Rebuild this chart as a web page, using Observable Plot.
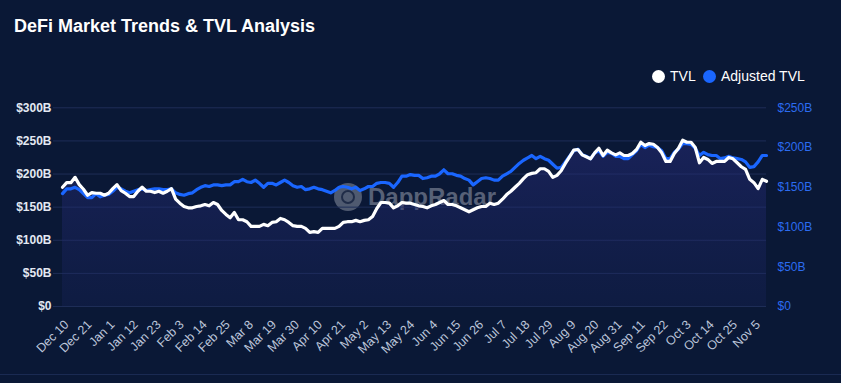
<!DOCTYPE html>
<html><head><meta charset="utf-8">
<script src="https://cdn.jsdelivr.net/npm/d3@7"></script>
<script src="https://cdn.jsdelivr.net/npm/@observablehq/plot@0.6"></script>
<style>
html,body{margin:0;padding:0;background:#0a1836;}
#wrap{position:relative;width:841px;height:383px;background:#0a1836;overflow:hidden;font-family:"Liberation Sans",Arial,sans-serif;}
#title{position:absolute;left:14px;top:17px;line-height:18px;color:#fff;font-weight:700;font-size:18px;white-space:nowrap;}
.dot{position:absolute;width:13px;height:13px;border-radius:50%;top:69.5px;}
.lg{position:absolute;top:69px;line-height:14px;font-size:14px;color:#fff;white-space:nowrap;}
#wm{position:absolute;left:334px;top:182px;height:30px;display:flex;align-items:center;color:rgba(165,170,185,0.5);font-weight:700;font-size:24px;}
#wm .logo{width:28px;height:28px;border-radius:50%;background:rgba(165,170,185,0.45);margin-right:6px;position:relative;}
#wm .logo:after{content:"";position:absolute;left:7px;top:7px;width:10px;height:10px;border-radius:50%;border:2px solid rgba(11,24,56,0.7);}
#chart{position:absolute;left:0;top:0;}
#bottom{position:absolute;left:0;top:374px;width:841px;height:1px;background:#1a2a52;}
</style></head>
<body>
<div id="wrap">
  <div id="wm"><div class="logo"></div><span>DappRadar</span></div>
  <div id="chart"></div>
  <div id="title">DeFi Market Trends &amp; TVL Analysis</div>
  <div class="dot" style="left:652px;background:#ffffff"></div>
  <div class="lg" style="left:670px">TVL</div>
  <div class="dot" style="left:703px;background:#1a66ff"></div>
  <div class="lg" style="left:721px">Adjusted TVL</div>
  <div id="bottom"></div>
</div>
<script>
const startDate = "2024-12-09";
const endDate = "2025-11-10";
const stepDays = 2;
const tvl = [
180,187,187,195,184,177,168,172,171,171,
168,171,178,184,175,171,166,166,174,180,
174,174,172,174,171,174,178,162,156,151,
149,149,151,152,154,152,157,154,145,139,
134,142,131,131,128,121,121,121,124,122,
127,128,133,131,127,122,121,121,118,112,
113,112,118,118,118,118,121,127,128,128,
130,128,130,131,136,148,157,157,156,149,
152,157,156,156,154,152,151,149,152,154,
157,160,154,154,152,149,146,143,146,149,
151,151,156,154,156,162,169,174,180,186,
193,199,201,202,208,208,204,195,198,205,
216,226,236,237,229,226,223,232,239,228,
236,232,229,232,228,228,231,237,248,243,
246,245,240,232,219,219,231,239,251,248,
248,240,217,225,222,216,219,219,219,225,
223,217,211,207,192,187,178,192,189];
const adjustedTvl = [
142,148,148,150,147,142,137,137,142,138,
140,141,145,150,148,145,143,145,147,148,
146,147,148,148,147,147,148,143,141,140,
142,143,147,150,152,151,153,153,152,153,
153,157,157,160,157,156,159,155,150,155,
155,153,156,159,156,152,150,151,147,148,
150,148,147,145,143,146,150,151,150,148,
150,146,148,151,151,155,156,156,155,150,
156,164,164,166,165,165,161,162,164,164,
167,172,167,167,165,164,161,159,153,157,
161,162,161,159,159,164,167,170,175,180,
184,187,190,186,189,186,184,179,174,175,
182,189,196,198,191,189,186,193,196,189,
194,193,189,189,186,186,191,196,204,200,
203,201,200,196,186,186,194,198,205,205,
204,199,190,194,191,190,190,186,187,189,
187,186,185,182,175,176,182,190,190];
const xTickLabels = ["2024-12-10","2024-12-21","2025-01-01","2025-01-12","2025-01-23","2025-02-03","2025-02-14","2025-02-25","2025-03-08","2025-03-19","2025-03-30","2025-04-10","2025-04-21","2025-05-02","2025-05-13","2025-05-24","2025-06-04","2025-06-15","2025-06-26","2025-07-07","2025-07-18","2025-07-29","2025-08-09","2025-08-20","2025-08-31","2025-09-11","2025-09-22","2025-10-03","2025-10-14","2025-10-25","2025-11-05"];
const leftTicks = [0,50,100,150,200,250,300];
const rightTicks = [0,50,100,150,200,250];

const start = new Date(startDate);
const data = tvl.map((v, i) => ({date: d3.utcDay.offset(start, stepDays * i), tvl: v, adj: adjustedTvl[i]}));
const k = 300 / 250; // right axis (Adjusted TVL) to left axis
const fmt = d => d === 0 ? "$0" : `$${d}B`;

const defs = () => {
  const s = d3.create("svg:defs");
  const g = s.append("linearGradient").attr("id", "tvlGrad").attr("x1", 0).attr("y1", 0).attr("x2", 0).attr("y2", 1);
  g.append("stop").attr("offset", "0%").attr("stop-color", "#282c7c").attr("stop-opacity", 0.5);
  g.append("stop").attr("offset", "100%").attr("stop-color", "#1c2766").attr("stop-opacity", 0.25);
  return s.node();
};

const chart = Plot.plot({
  width: 841, height: 383,
  marginTop: 107.3, marginBottom: 77, marginLeft: 62, marginRight: 75,
  style: {background: "transparent", fontFamily: "'Liberation Sans', Arial, sans-serif", fontSize: "12px", overflow: "visible"},
  x: {type: "utc", domain: [start, new Date(endDate)]},
  y: {domain: [0, 300]},
  marks: [
    defs,
    Plot.ruleY(leftTicks, {y: d => d, stroke: "#1e2d57", strokeWidth: 1, insetLeft: -9}),
    Plot.areaY(data, {x: "date", y: "tvl", fill: "url(#tvlGrad)"}),
    Plot.lineY(data, {x: "date", y: d => d.adj * k, stroke: "#1a66ff", strokeWidth: 3.2, strokeLinejoin: "round"}),
    Plot.lineY(data, {x: "date", y: "tvl", stroke: "#ffffff", strokeWidth: 3.2, strokeLinejoin: "round"}),
    Plot.axisY(leftTicks, {anchor: "left", tickSize: 0, tickPadding: 11, tickFormat: fmt, fill: "#e3e8f2", fontWeight: "bold", fontSize: 12, label: null}),
    Plot.text(rightTicks, {frameAnchor: "right", y: d => d * k, text: fmt, textAnchor: "start", dx: 11, fill: "#2c6cf0", fontSize: 12}),
    Plot.axisX(xTickLabels.map(s => new Date(s)), {tickRotate: -45, tickSize: 0, tickPadding: 16, dx: 2, tickFormat: d3.utcFormat("%b %-d"), fill: "#bcc5da", fontSize: 12.5, label: null})
  ]
});
document.getElementById("chart").appendChild(chart);
</script>
</body></html>
